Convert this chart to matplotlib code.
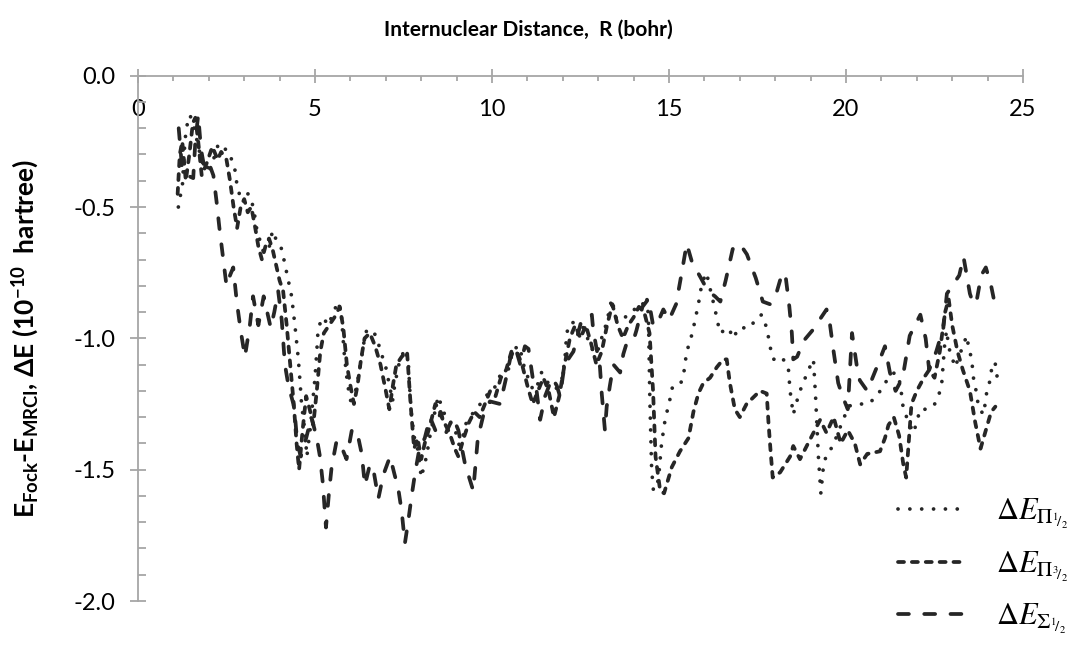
import matplotlib
matplotlib.use('Agg')
import matplotlib.pyplot as plt
from matplotlib.ticker import MultipleLocator, FormatStrFormatter

plt.rcParams['font.family'] = ['Lato', 'DejaVu Sans']
plt.rcParams['mathtext.fontset'] = 'custom'
plt.rcParams['mathtext.rm'] = 'Lato'
plt.rcParams['mathtext.bf'] = 'Lato:bold'
plt.rcParams['mathtext.it'] = 'Lato:italic'

# Pi 1/2 (dotted)
r_pi12 = [1.14, 1.19, 1.25, 1.30, 1.36, 1.47, 1.61, 1.70, 1.80, 1.89, 2.03, 2.13, 2.27, 2.41, 2.50,
          2.65, 2.74, 2.79, 2.88, 3.02, 3.12, 3.26, 3.35, 3.45, 3.54, 3.68, 3.80, 3.92, 4.06, 4.20,
          4.34, 4.44, 4.53, 4.58, 4.62, 4.72, 4.77, 4.86, 4.95, 5.00, 5.05, 5.09, 5.22, 5.38, 5.52,
          5.66, 5.75, 5.82, 5.89, 5.94, 6.04, 6.13, 6.22, 6.32, 6.41, 6.46, 6.65, 6.79, 6.88, 7.00,
          7.12, 7.19, 7.26, 7.40, 7.55, 7.64, 7.68, 7.73, 7.82, 7.92, 8.00, 8.15, 8.25, 8.34, 8.48,
          8.58, 8.72, 8.91, 9.05, 9.10, 9.24, 9.43, 9.62, 9.81, 10.04, 10.18, 10.32, 10.46, 10.60,
          10.79, 10.84, 10.93, 11.17, 11.31, 11.40, 11.54, 11.68, 11.83, 11.97, 12.06, 12.11, 12.21,
          12.39, 12.58, 12.82, 12.96, 13.14, 13.24, 13.38, 13.52, 13.76, 13.99, 14.18, 14.37, 14.42,
          14.46, 14.51, 14.56, 14.70, 14.79, 14.89, 15.03, 15.08, 15.31, 15.41, 15.50, 15.60, 15.69,
          15.83, 15.93, 16.06, 16.16, 16.30, 16.44, 16.68, 16.82, 16.96, 17.29, 17.48, 17.62, 17.76,
          17.87, 17.95, 18.18, 18.37, 18.42, 18.51, 18.61, 18.70, 18.82, 18.94, 19.08, 19.14, 19.22,
          19.29, 19.36, 19.45, 19.64, 19.74, 20.07, 20.21, 20.63, 20.87, 21.06, 21.25, 21.39, 21.53,
          21.62, 21.90, 22.00, 22.09, 22.23, 22.47, 22.61, 22.70, 22.80, 22.85, 22.89, 22.99, 23.08,
          23.41, 23.46, 23.55, 23.60, 23.69, 23.74, 23.88, 23.93, 23.98, 24.07, 24.12, 24.21, 24.26,
          24.33]
de_pi12 = [-0.50, -0.46, -0.43, -0.30, -0.20, -0.15, -0.21, -0.27, -0.32, -0.36, -0.34, -0.32, -0.26,
           -0.28, -0.28, -0.32, -0.36, -0.41, -0.46, -0.45, -0.45, -0.50, -0.58, -0.63, -0.67, -0.67,
           -0.59, -0.63, -0.66, -0.75, -0.84, -0.96, -1.08, -1.17, -1.25, -1.36, -1.45, -1.35, -1.22,
           -1.15, -1.05, -0.96, -0.92, -0.95, -0.90, -0.86, -0.92, -1.05, -1.14, -1.19, -1.26, -1.21,
           -1.15, -1.07, -0.99, -0.97, -0.97, -1.02, -1.06, -1.11, -1.19, -1.24, -1.17, -1.08, -1.04,
           -1.10, -1.20, -1.30, -1.39, -1.43, -1.53, -1.45, -1.37, -1.31, -1.22, -1.26, -1.31, -1.33,
           -1.39, -1.43, -1.33, -1.29, -1.26, -1.22, -1.20, -1.15, -1.13, -1.12, -1.04, -1.03, -1.07,
           -1.12, -1.20, -1.17, -1.13, -1.16, -1.19, -1.19, -1.16, -1.08, -0.98, -0.94, -0.94, -0.96,
           -1.04, -1.06, -0.98, -0.94, -0.85, -0.93, -0.92, -0.89, -0.89, -0.84, -0.92, -1.24, -1.50,
           -1.58, -1.54, -1.40, -1.31, -1.23, -1.19, -1.18, -1.14, -1.05, -1.01, -0.96, -0.87, -0.79,
           -0.75, -0.81, -0.89, -0.98, -0.96, -1.00, -0.96, -0.96, -0.92, -0.91, -0.96, -1.04, -1.08,
           -1.07, -1.11, -1.20, -1.29, -1.24, -1.20, -1.16, -1.12, -1.08, -1.22, -1.45, -1.59, -1.49,
           -1.44, -1.41, -1.37, -1.26, -1.25, -1.25, -1.22, -1.18, -1.14, -1.13, -1.17, -1.27, -1.36,
           -1.32, -1.27, -1.27, -1.26, -1.22, -1.18, -1.00, -0.97, -1.03, -1.07, -1.11, -0.99, -1.03,
           -1.08, -1.15, -1.21, -1.26, -1.29, -1.25, -1.20, -1.16, -1.11, -1.09, -1.14, -1.18]

# Pi 3/2 (short dashes)
r_pi32 = [1.12, 1.18, 1.25, 1.35, 1.45, 1.55, 1.62, 1.70, 1.80, 1.95, 2.10, 2.25, 2.35, 2.50, 2.60,
          2.70, 2.80, 2.90, 3.00, 3.10, 3.20, 3.30, 3.40, 3.50, 3.60, 3.70, 3.80, 3.90, 4.00, 4.10,
          4.20, 4.30, 4.40, 4.48, 4.55, 4.65, 4.75, 4.85, 4.95, 5.05, 5.15, 5.25, 5.40, 5.55, 5.70,
          5.80, 5.90, 6.00, 6.10, 6.20, 6.30, 6.40, 6.55, 6.70, 6.85, 7.00, 7.10, 7.20, 7.30, 7.45,
          7.60, 7.70, 7.80, 7.90, 8.00, 8.10, 8.25, 8.40, 8.50, 8.65, 8.80, 8.95, 9.05, 9.20, 9.35,
          9.50, 9.65, 9.80, 9.95, 10.10, 10.25, 10.40, 10.55, 10.70, 10.85, 11.00, 11.15, 11.30,
          11.45, 11.60, 11.75, 11.90, 12.05, 12.20, 12.35, 12.50, 12.65, 12.80, 12.95, 13.10, 13.25,
          13.40, 13.55, 13.70, 13.85, 14.00, 14.15, 14.30, 14.45, 14.55, 14.62, 14.75, 14.86, 15.08,
          15.31, 15.55, 15.69, 15.83, 15.97, 16.16, 16.35, 16.53, 16.63, 16.72, 16.86, 17.00, 17.19,
          17.57, 17.76, 17.81, 17.87, 17.93, 18.14, 18.42, 18.51, 18.70, 18.89, 19.08, 19.27, 19.45,
          19.65, 19.85, 20.05, 20.25, 20.40, 20.60, 20.96, 21.10, 21.20, 21.35, 21.50, 21.62, 21.70,
          21.85, 22.00, 22.20, 22.35, 22.50, 22.65, 22.80, 22.90, 23.00, 23.15, 23.30, 23.50, 23.65,
          23.80, 23.95, 24.10, 24.22]
de_pi32 = [-0.45, -0.30, -0.25, -0.40, -0.30, -0.18, -0.16, -0.25, -0.38, -0.33, -0.27, -0.32, -0.29,
           -0.32, -0.40, -0.50, -0.58, -0.50, -0.47, -0.52, -0.50, -0.57, -0.65, -0.70, -0.65, -0.62,
           -0.66, -0.72, -0.78, -0.82, -0.95, -1.10, -1.25, -1.40, -1.50, -1.35, -1.22, -1.27, -1.33,
           -1.20, -1.05, -0.98, -0.95, -0.92, -0.88, -0.96, -1.10, -1.18, -1.25, -1.18, -1.08, -1.00,
           -0.98, -1.03, -1.10, -1.20, -1.27, -1.18, -1.10, -1.07, -1.05, -1.25, -1.42, -1.38, -1.46,
           -1.40, -1.33, -1.25, -1.27, -1.32, -1.36, -1.42, -1.45, -1.38, -1.32, -1.28, -1.30, -1.25,
           -1.20, -1.22, -1.15, -1.12, -1.05, -1.05, -1.10, -1.18, -1.25, -1.20, -1.15, -1.20, -1.30,
           -1.22, -1.10, -1.00, -0.95, -1.00, -0.95, -1.02, -1.10, -1.05, -0.95, -0.87, -0.95, -1.00,
           -0.95, -0.92, -0.88, -0.90, -0.98, -1.20, -1.45, -1.58, -1.59, -1.49, -1.43, -1.38, -1.28,
           -1.21, -1.17, -1.15, -1.11, -1.08, -1.08, -1.17, -1.27, -1.30, -1.25, -1.20, -1.21, -1.32,
           -1.43, -1.53, -1.51, -1.45, -1.41, -1.46, -1.41, -1.36, -1.31, -1.36, -1.30, -1.40, -1.35,
           -1.40, -1.48, -1.44, -1.43, -1.38, -1.33, -1.30, -1.37, -1.48, -1.53, -1.25, -1.20, -1.15,
           -1.12, -1.15, -1.05, -0.90, -0.85, -0.95, -1.05, -1.12, -1.20, -1.32, -1.42, -1.35, -1.28,
           -1.26]

# Sigma 1/2 (long dashes)
r_sig12 = [1.15, 1.20, 1.25, 1.40, 1.56, 1.62, 1.70, 1.78, 1.90, 2.05, 2.13, 2.22, 2.30, 2.40, 2.50,
           2.60, 2.69, 2.79, 2.90, 3.02, 3.16, 3.25, 3.40, 3.55, 3.65, 3.75, 3.85, 3.96, 4.06, 4.15,
           4.25, 4.39, 4.45, 4.50, 4.60, 4.75, 4.90, 5.05, 5.14, 5.22, 5.31, 5.40, 5.47, 5.61, 5.71,
           5.89, 6.04, 6.18, 6.32, 6.41, 6.55, 6.65, 6.79, 6.93, 7.12, 7.25, 7.35, 7.45, 7.54, 7.64,
           7.73, 7.83, 7.95, 8.10, 8.25, 8.40, 8.55, 8.70, 8.90, 9.05, 9.24, 9.47, 9.60, 9.76, 9.94,
           10.23, 10.40, 10.51, 10.65, 10.80, 10.93, 11.03, 11.15, 11.26, 11.36, 11.50, 11.70, 11.83,
           11.92, 12.05, 12.30, 12.53, 12.70, 12.82, 12.86, 13.05, 13.10, 13.19, 13.24, 13.33, 13.43,
           13.62, 13.71, 13.80, 13.99, 14.08, 14.25, 14.42, 14.55, 14.65, 14.84, 15.00, 15.20, 15.36,
           15.50, 15.65, 15.90, 16.10, 16.30, 16.45, 16.60, 16.80, 17.00, 17.20, 17.45, 17.65, 17.85,
           18.05, 18.20, 18.30, 18.40, 18.47, 18.51, 18.62, 18.80, 19.05, 19.25, 19.45, 19.55, 19.65,
           19.78, 19.90, 20.05, 20.17, 20.30, 20.39, 20.60, 20.90, 21.10, 21.24, 21.40, 21.60, 21.80,
           22.10, 22.25, 22.35, 22.55, 22.75, 22.85, 23.05, 23.20, 23.32, 23.50, 23.60, 23.70, 23.82,
           23.95, 24.10, 24.22]
de_sig12 = [-0.20, -0.28, -0.36, -0.38, -0.39, -0.25, -0.15, -0.28, -0.37, -0.35, -0.38, -0.48, -0.58,
            -0.69, -0.80, -0.76, -0.73, -0.86, -0.97, -1.07, -0.95, -0.84, -0.95, -0.84, -0.90, -0.96,
            -0.90, -0.82, -0.93, -1.10, -1.18, -1.25, -1.32, -1.40, -1.45, -1.38, -1.30, -1.38, -1.45,
            -1.55, -1.72, -1.58, -1.49, -1.39, -1.40, -1.46, -1.35, -1.35, -1.44, -1.56, -1.48, -1.50,
            -1.61, -1.52, -1.45, -1.52, -1.57, -1.66, -1.78, -1.69, -1.60, -1.51, -1.42, -1.38, -1.30,
            -1.35, -1.28, -1.36, -1.30, -1.35, -1.48, -1.58, -1.38, -1.29, -1.24, -1.25, -1.15, -1.08,
            -1.03, -1.10, -1.03, -1.04, -1.15, -1.20, -1.31, -1.22, -1.15, -1.18, -1.22, -1.10, -1.05,
            -0.93, -0.92, -0.91, -0.97, -1.11, -1.21, -1.35, -1.26, -1.18, -1.10, -1.13, -1.06, -1.02,
            -1.01, -0.97, -0.88, -0.85, -0.95, -0.95, -0.89, -0.93, -0.87, -0.75, -0.64, -0.71, -0.77,
            -0.82, -0.84, -0.86, -0.78, -0.66, -0.64, -0.68, -0.77, -0.86, -0.87, -0.82, -0.75, -0.77,
            -0.88, -0.98, -1.08, -1.07, -1.01, -0.97, -0.93, -0.89, -0.95, -1.05, -1.17, -1.22, -1.27,
            -0.98, -1.10, -1.16, -1.20, -1.10, -1.03, -1.13, -1.20, -1.15, -0.99, -0.91, -1.00, -1.12,
            -1.05, -0.96, -0.83, -0.79, -0.76, -0.69, -0.83, -0.87, -0.85, -0.76, -0.73, -0.80, -0.88]

labels = [r'$\Delta E_{\Pi_{{}^{1}\!/_{2}}}$',
          r'$\Delta E_{\Pi_{{}^{3}\!/_{2}}}$',
          r'$\Delta E_{\Sigma_{{}^{1}\!/_{2}}}$']

W, H = 1071, 657
fig = plt.figure(figsize=(W / 100, H / 100), dpi=100)
ax = fig.add_axes([138 / W, 1 - 601 / H, (1023 - 138) / W, (601 - 75.7) / H])
ax.set_xlim(0, 25)
ax.set_ylim(-2, 0)

ink = '#262626'
lw = 2.7
ax.plot(r_pi12, de_pi12, color=ink, lw=lw, linestyle=(0, (0.01, 3.15)),
        dash_capstyle='round', label=labels[0])
ax.plot(r_pi32, de_pi32, color=ink, lw=lw, linestyle=(0, (1.6, 2.1)),
        dash_capstyle='round', label=labels[1])
ax.plot(r_sig12, de_sig12, color=ink, lw=lw, linestyle=(0, (2.9, 4.1)),
        dash_capstyle='round', label=labels[2])

# axes: x axis sits at y = 0 (top), labels below it
axc = '#a6a6a6'
ax.spines['right'].set_visible(False)
ax.spines['top'].set_visible(False)
ax.spines['bottom'].set_position(('data', 0))
for s in ('left', 'bottom'):
    ax.spines[s].set_color(axc)
    ax.spines[s].set_linewidth(1.3)

ax.xaxis.set_major_locator(MultipleLocator(5))
ax.xaxis.set_minor_locator(MultipleLocator(1))
ax.yaxis.set_major_locator(MultipleLocator(0.5))
ax.yaxis.set_minor_locator(MultipleLocator(0.1))
ax.yaxis.set_major_formatter(FormatStrFormatter('%.1f'))

ax.tick_params(axis='x', which='major', direction='inout', length=10, width=1.3,
               color=axc, labelsize=17, pad=12)
ax.tick_params(axis='x', which='minor', direction='out', length=3.6, width=1.3, color=axc)
ax.tick_params(axis='y', which='major', direction='inout', length=11, width=1.3,
               color=axc, labelsize=17, pad=11)
ax.tick_params(axis='y', which='minor', direction='in', length=5.5, width=1.3, color=axc)

fig.text(528 / W, 1 - 30 / H, 'Internuclear Distance,  R (bohr)', ha='center', va='center',
         fontsize=15, fontweight='bold')
fig.text(25 / W, 1 - 338 / H,
         r'E$_{\mathbf{Fock}}$-E$_{\mathbf{MRCI}}$, ΔE (10$^{\mathbf{-10}}$  hartree)',
         rotation=90, ha='center', va='center', fontsize=19, fontweight='bold')

leg = ax.legend(loc='upper left', bbox_to_anchor=(898 / W, 1 - 497 / H),
                bbox_transform=fig.transFigure, frameon=False, fontsize=22,
                handlelength=2.1, handletextpad=1.1, labelspacing=0.6,
                borderpad=0, borderaxespad=0)
for t in leg.get_texts():
    t.set_math_fontfamily('stix')

fig.savefig('out.png', dpi=100)
